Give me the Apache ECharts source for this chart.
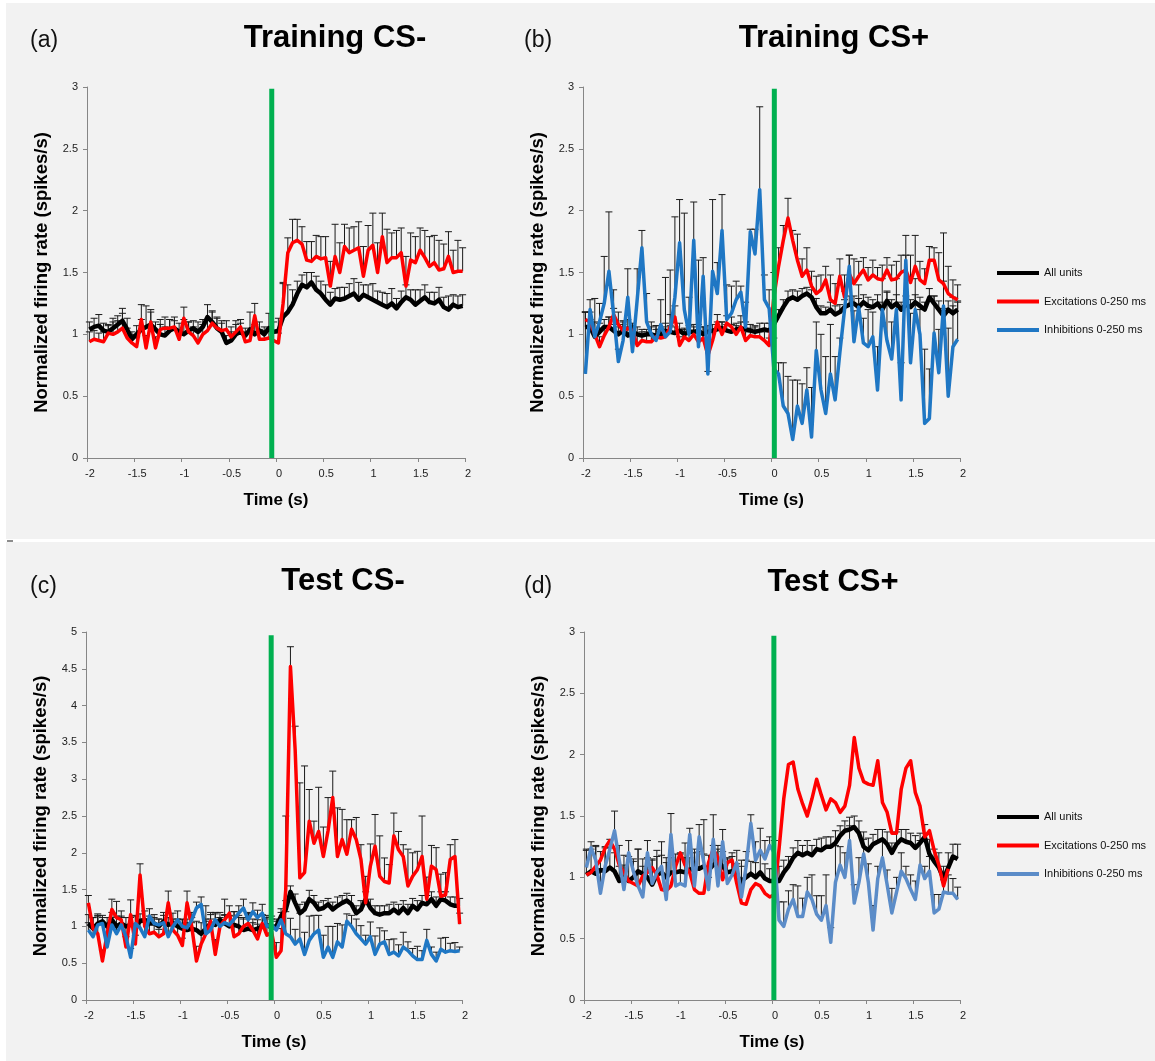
<!DOCTYPE html>
<html>
<head>
<meta charset="utf-8">
<script src="https://cdn.jsdelivr.net/npm/echarts/dist/echarts.min.js"></script>
<style>
  html, body { margin: 0; padding: 0; background: #ffffff; }
  #chart { width: 1155px; height: 1061px; }
</style>
</head>
<body>
<div id="chart"></div>
<script>
// Peri-stimulus firing rate, 50 ms bins from -2 s to +2 s (80 bins, values at bin centres)
const binWidth = 0.05;
const firstBinCentre = -1.975;
const binCount = 80;
const timeBins = Array.from({ length: binCount }, (_, i) => +(firstBinCentre + i * binWidth).toFixed(3));

const xTickStep = 0.5;
const legendNames = ['All units', 'Excitations 0-250 ms', 'Inhibitions 0-250 ms'];
const panelTitles = ['Training CS-', 'Training CS+', 'Test CS-', 'Test CS+'];
const panelLetters = ['(a)', '(b)', '(c)', '(d)'];
const yAxisTitle = 'Normalized firing rate (spikes/s)';
const xAxisTitle = 'Time (s)';

// ---- (a) Training CS- ----
const allUnitsA = [
  1.04, 1.06, 1.07, 1.03, 1.02, 1.05, 1.08, 1.11, 1.04, 0.96,
  1.00, 1.04, 1.06, 1.08, 1.04, 1.00, 0.99, 1.03, 1.05, 1.02,
  1.00, 1.03, 1.05, 1.02, 1.06, 1.14, 1.10, 1.05, 1.02, 0.93,
  0.95, 1.00, 1.02, 0.99, 1.04, 1.00, 1.03, 1.00, 1.05, 1.02,
  1.03, 1.14, 1.18, 1.24, 1.33, 1.40, 1.38, 1.42, 1.36, 1.33,
  1.28, 1.24, 1.29, 1.28, 1.29, 1.31, 1.33, 1.28, 1.32, 1.30,
  1.28, 1.26, 1.24, 1.22, 1.25, 1.21, 1.26, 1.30, 1.28, 1.24,
  1.27, 1.30, 1.26, 1.25, 1.28, 1.22, 1.20, 1.24, 1.22, 1.23
];
const allUnitsSemA = [
  0.06, 0.07, 0.09, 0.06, 0.05, 0.08, 0.07, 0.10, 0.09, 0.06,
  0.07, 0.08, 0.17, 0.10, 0.06, 0.08, 0.07, 0.09, 0.06, 0.07,
  0.12, 0.07, 0.06, 0.08, 0.06, 0.10, 0.08, 0.09, 0.07, 0.06,
  0.07, 0.08, 0.07, 0.06, 0.14, 0.08, 0.07, 0.06, 0.12, 0.08,
  0.10, 0.28, 0.22, 0.12, 0.10, 0.08, 0.12, 0.08, 0.11, 0.10,
  0.12, 0.10, 0.08, 0.10, 0.09, 0.10, 0.12, 0.14, 0.08, 0.10,
  0.13, 0.09, 0.10, 0.11, 0.12, 0.08, 0.09, 0.10, 0.08, 0.12,
  0.09, 0.10, 0.08, 0.09, 0.10, 0.08, 0.11, 0.08, 0.09, 0.09
];
const excitA = [
  0.94, 0.96, 0.95, 0.94, 1.01, 1.00, 1.02, 1.05, 0.97, 0.93,
  0.90, 1.12, 0.89, 1.10, 0.89, 1.04, 1.05, 1.05, 1.06, 0.96,
  1.13, 1.02, 0.99, 0.93, 1.00, 1.03, 1.09, 1.05, 1.03, 1.04,
  0.98, 1.02, 1.06, 0.94, 0.95, 1.15, 0.96, 0.96, 0.97, 0.95,
  0.93, 1.25, 1.66, 1.74, 1.76, 1.73, 1.60, 1.59, 1.63, 1.61,
  1.62, 1.39, 1.63, 1.50, 1.71, 1.66, 1.68, 1.70, 1.47, 1.68,
  1.72, 1.50, 1.79, 1.58, 1.62, 1.62, 1.66, 1.39, 1.60, 1.58,
  1.68, 1.62, 1.55, 1.58, 1.52, 1.53, 1.63, 1.50, 1.51, 1.51
];
const excitSemA = [
  0.08, 0.07, 0.06, 0.08, 0.07, 0.10, 0.09, 0.12, 0.08, 0.07,
  0.08, 0.12, 0.10, 0.10, 0.09, 0.08, 0.09, 0.07, 0.08, 0.07,
  0.09, 0.08, 0.07, 0.09, 0.08, 0.09, 0.10, 0.08, 0.08, 0.07,
  0.08, 0.09, 0.06, 0.08, 0.07, 0.10, 0.08, 0.07, 0.08, 0.07,
  0.08, 0.16, 0.12, 0.19, 0.17, 0.14, 0.15, 0.16, 0.17, 0.18,
  0.17, 0.20, 0.26, 0.24, 0.18, 0.20, 0.19, 0.21, 0.24, 0.20,
  0.26, 0.24, 0.19, 0.27, 0.20, 0.22, 0.20, 0.24, 0.22, 0.21,
  0.18, 0.22, 0.24, 0.22, 0.24, 0.20, 0.20, 0.18, 0.25, 0.19
];

// ---- (b) Training CS+ ----
const allUnitsB = [
  1.06, 1.06, 0.98, 1.02, 1.06, 1.06, 1.03, 1.00, 1.03, 0.99,
  1.02, 1.00, 0.99, 1.00, 1.00, 0.99, 0.99, 1.03, 1.02, 1.01,
  1.03, 1.00, 1.02, 1.02, 1.03, 1.00, 1.02, 1.03, 1.04, 1.05,
  1.03, 1.02, 1.04, 1.05, 1.04, 1.03, 1.02, 1.03, 1.04, 1.03,
  1.08, 1.15, 1.22, 1.28, 1.30, 1.28, 1.31, 1.33, 1.30, 1.22,
  1.17, 1.17, 1.20, 1.16, 1.18, 1.22, 1.24, 1.25, 1.22, 1.26,
  1.23, 1.22, 1.25, 1.20, 1.27, 1.22, 1.25, 1.20, 1.24, 1.22,
  1.26, 1.23, 1.20, 1.30, 1.25, 1.20, 1.15, 1.20, 1.17, 1.20
];
const allUnitsSemB = [
  0.12, 0.06, 0.05, 0.07, 0.06, 0.08, 0.05, 0.06, 0.05, 0.07,
  0.05, 0.06, 0.05, 0.04, 0.06, 0.05, 0.05, 0.06, 0.05, 0.05,
  0.06, 0.05, 0.05, 0.06, 0.05, 0.06, 0.05, 0.05, 0.06, 0.05,
  0.05, 0.06, 0.05, 0.05, 0.06, 0.05, 0.05, 0.06, 0.05, 0.06,
  0.06, 0.05, 0.06, 0.07, 0.06, 0.07, 0.06, 0.05, 0.06, 0.07,
  0.06, 0.05, 0.06, 0.07, 0.06, 0.06, 0.07, 0.06, 0.07, 0.06,
  0.07, 0.06, 0.07, 0.06, 0.07, 0.06, 0.07, 0.06, 0.07, 0.06,
  0.06, 0.07, 0.06, 0.07, 0.06, 0.07, 0.06, 0.07, 0.06, 0.07
];
const excitB = [
  1.12, 1.10, 1.00, 0.90, 0.99, 1.06, 1.16, 1.08, 1.03, 1.05,
  1.03, 0.91, 0.95, 0.94, 0.94, 0.98, 0.97, 0.98, 1.06, 1.14,
  0.91, 0.98, 0.95, 1.00, 0.94, 0.97, 0.83, 0.95, 1.10, 1.00,
  1.09, 1.06, 1.00, 1.06, 0.95, 0.99, 0.98, 0.98, 0.95, 0.91,
  1.30, 1.55, 1.76, 1.94, 1.76, 1.60, 1.47, 1.52, 1.39, 1.33,
  1.36, 1.44, 1.28, 1.25, 1.47, 1.30, 1.49, 1.41, 1.47, 1.52,
  1.44, 1.48, 1.45, 1.44, 1.52, 1.44, 1.45, 1.50, 1.52, 1.42,
  1.55, 1.44, 1.41, 1.60, 1.60, 1.44, 1.41, 1.33, 1.30, 1.28
];
const excitSemB = [
  0.06, 0.08, 0.10, 0.08, 0.06, 0.08, 0.05, 0.10, 0.08, 0.07,
  0.06, 0.10, 0.07, 0.08, 0.06, 0.09, 0.07, 0.08, 0.10, 0.09,
  0.07, 0.06, 0.08, 0.06, 0.07, 0.09, 0.07, 0.08, 0.06, 0.10,
  0.06, 0.08, 0.07, 0.09, 0.07, 0.06, 0.08, 0.06, 0.07, 0.06,
  0.20, 0.15, 0.12, 0.16, 0.08, 0.21, 0.14, 0.18, 0.12, 0.14,
  0.12, 0.11, 0.20, 0.16, 0.14, 0.18, 0.15, 0.20, 0.12, 0.10,
  0.10, 0.12, 0.09, 0.12, 0.10, 0.12, 0.14, 0.14, 0.12, 0.22,
  0.25, 0.15, 0.12, 0.11, 0.10, 0.22, 0.41, 0.22, 0.14, 0.12
];
const inhibB = [
  0.68, 1.20, 0.98, 1.10, 1.25, 1.51, 1.16, 0.78, 0.95, 1.30,
  0.86, 1.28, 1.70, 1.10, 1.00, 0.95, 1.08, 0.98, 1.02, 1.30,
  1.74, 1.20, 1.00, 1.76, 0.90, 1.47, 0.68, 1.51, 1.33, 1.84,
  1.12, 1.17, 1.28, 1.34, 1.06, 1.83, 1.65, 2.17, 1.28, 1.21,
  0.72, 0.68, 0.42, 0.36, 0.15, 0.42, 0.28, 0.55, 0.17, 0.87,
  0.55, 0.36, 0.68, 0.47, 0.85, 1.20, 1.55, 0.94, 1.22, 0.93,
  0.90, 0.98, 0.55, 1.20, 0.95, 0.80, 1.20, 0.47, 1.60, 0.77,
  1.20, 1.00, 0.28, 0.32, 1.01, 0.69, 1.23, 0.50, 0.90, 0.96
];
const inhibSemB = [
  0.50, 0.08, 0.31, 0.15, 0.38, 0.48, 0.20, 0.10, 0.15, 0.23,
  0.12, 0.25, 0.14, 0.23, 0.10, 0.12, 0.20, 0.48, 0.50, 0.65,
  0.35, 0.78, 0.30, 0.31, 0.70, 0.15, 0.02, 0.58, 0.25, 0.29,
  0.28, 0.22, 0.15, 0.05, 0.20, 0.02, 0.20, 0.67, 0.20, 0.15,
  0.25, 0.09, 0.35, 0.30, 0.48, 0.21, 0.32, 0.18, 0.40, 0.23,
  0.45, 0.46, 0.40, 0.35, 0.12, 0.15, 0.09, 0.25, 0.18, 0.20,
  0.30, 0.20, 0.35, 0.25, 0.40, 0.30, 0.25, 0.30, 0.20, 0.40,
  0.25, 0.20, 0.60, 0.40, 0.30, 0.35, 0.20, 0.55, 0.40, 0.30
];

// ---- (c) Test CS- ----
const allUnitsC = [
  1.04, 0.97, 1.04, 1.07, 1.00, 1.09, 1.00, 1.04, 1.00, 1.02,
  1.00, 1.07, 1.09, 1.04, 1.04, 1.00, 1.07, 1.02, 1.04, 1.00,
  0.97, 0.95, 0.97, 0.95, 0.90, 0.97, 1.04, 1.02, 1.09, 1.04,
  1.00, 1.02, 1.00, 0.95, 0.97, 0.95, 0.97, 1.00, 1.02, 0.98,
  1.00, 1.14, 1.23, 1.47, 1.32, 1.18, 1.23, 1.37, 1.32, 1.23,
  1.25, 1.30, 1.23, 1.28, 1.32, 1.35, 1.30, 1.18, 1.23, 1.37,
  1.25, 1.18, 1.16, 1.18, 1.18, 1.23, 1.18, 1.25, 1.18, 1.28,
  1.23, 1.32, 1.30, 1.37, 1.28, 1.37, 1.35, 1.30, 1.28, 1.28
];
const allUnitsSemC = [
  0.12, 0.15, 0.10, 0.08, 0.12, 0.10, 0.14, 0.10, 0.12, 0.10,
  0.15, 0.10, 0.12, 0.10, 0.08, 0.10, 0.12, 0.10, 0.14, 0.10,
  0.12, 0.10, 0.08, 0.12, 0.15, 0.10, 0.12, 0.15, 0.10, 0.12,
  0.15, 0.18, 0.12, 0.15, 0.20, 0.15, 0.12, 0.15, 0.10, 0.12,
  0.10, 0.10, 0.12, 0.08, 0.12, 0.12, 0.10, 0.12, 0.10, 0.10,
  0.10, 0.08, 0.10, 0.12, 0.10, 0.10, 0.12, 0.10, 0.12, 0.10,
  0.12, 0.10, 0.12, 0.10, 0.12, 0.10, 0.12, 0.10, 0.12, 0.10,
  0.12, 0.10, 0.12, 0.10, 0.12, 0.10, 0.12, 0.10, 0.12, 0.10
];
const excitC = [
  1.32, 0.97, 0.90, 0.53, 0.90, 1.23, 1.12, 1.09, 0.72, 1.16,
  0.76, 1.70, 1.00, 0.90, 0.92, 0.86, 0.90, 1.32, 0.95, 0.88,
  0.74, 1.32, 1.00, 0.53, 0.76, 0.90, 1.07, 0.62, 1.00, 1.09,
  1.18, 0.86, 0.90, 1.00, 1.04, 0.95, 0.83, 1.04, 0.88, 0.92,
  0.58, 0.67, 1.50, 4.53, 3.40, 1.66, 1.73, 2.43, 2.13, 2.29,
  1.95, 2.30, 2.75, 1.95, 2.18, 1.98, 2.32, 2.18, 1.91, 1.32,
  1.82, 2.09, 1.68, 1.61, 1.59, 2.23, 2.04, 1.95, 1.55, 1.68,
  1.77, 1.95, 1.37, 1.82, 1.77, 1.41, 1.43, 1.91, 1.95, 1.03
];
const excitSemC = [
  0.10, 0.15, 0.25, 0.15, 0.12, 0.14, 0.22, 0.12, 0.14, 0.20,
  0.12, 0.15, 0.10, 0.14, 0.12, 0.10, 0.14, 0.16, 0.12, 0.12,
  0.10, 0.16, 0.12, 0.20, 0.14, 0.38, 0.12, 0.20, 0.12, 0.28,
  0.10, 0.14, 0.25, 0.12, 0.14, 0.10, 0.20, 0.12, 0.14, 0.10,
  0.20, 0.30, 1.00, 0.27, 0.32, 1.29, 1.45, 0.43, 0.30, 0.60,
  0.40, 0.45, 0.36, 0.66, 0.41, 0.47, 0.13, 0.30, 0.20, 0.36,
  0.30, 0.43, 0.55, 0.32, 0.25, 0.31, 0.25, 0.16, 0.50, 0.32,
  0.25, 0.55, 0.30, 0.28, 0.30, 0.30, 0.30, 0.20, 0.23, 0.15
];
const inhibC = [
  0.95, 0.86, 1.02, 1.04, 0.72, 1.02, 0.90, 1.02, 0.86, 0.58,
  1.04, 0.98, 0.86, 1.14, 1.04, 1.02, 1.05, 0.86, 1.00, 1.09,
  1.00, 0.98, 1.09, 1.25, 1.30, 0.90, 0.95, 1.09, 1.00, 1.05,
  1.02, 1.10, 1.18, 1.25, 1.09, 1.20, 1.12, 1.18, 1.00, 1.02,
  0.95, 1.09, 0.90, 0.86, 0.76, 0.83, 0.62, 0.81, 0.90, 0.95,
  0.58, 0.72, 0.58, 0.79, 0.72, 1.07, 1.00, 0.90, 0.83, 0.76,
  0.86, 0.62, 0.76, 0.79, 0.62, 0.65, 0.60, 0.72, 0.67, 0.60,
  0.55, 0.55, 0.81, 0.62, 0.53, 0.69, 0.65, 0.67, 0.66, 0.67
];
const inhibSemC = [
  0.10, 0.12, 0.15, 0.08, 0.20, 0.10, 0.12, 0.10, 0.15, 0.12,
  0.10, 0.12, 0.20, 0.10, 0.12, 0.08, 0.10, 0.15, 0.10, 0.12,
  0.10, 0.12, 0.10, 0.08, 0.10, 0.20, 0.15, 0.10, 0.12, 0.10,
  0.12, 0.10, 0.10, 0.12, 0.10, 0.12, 0.10, 0.12, 0.15, 0.12,
  0.12, 0.10, 0.30, 0.25, 0.20, 0.35, 0.30, 0.33, 0.25, 0.20,
  0.30, 0.28, 0.42, 0.25, 0.30, 0.10, 0.15, 0.20, 0.18, 0.12,
  0.20, 0.25, 0.22, 0.15, 0.20, 0.18, 0.15, 0.20, 0.12, 0.10,
  0.18, 0.12, 0.15, 0.10, 0.12, 0.15, 0.20, 0.10, 0.12, 0.05
];

// ---- (d) Test CS+ ----
const allUnitsD = [
  1.02, 1.05, 1.03, 1.06, 1.05, 1.08, 1.05, 0.97, 1.00, 0.97,
  1.00, 1.05, 1.03, 1.00, 0.94, 1.02, 1.04, 1.00, 1.04, 1.04,
  1.05, 1.04, 1.06, 1.08, 1.07, 1.09, 1.06, 1.10, 1.12, 1.09,
  1.04, 1.05, 1.01, 0.97, 1.00, 1.03, 1.00, 1.04, 0.99, 0.97,
  0.97, 0.97, 1.04, 1.09, 1.16, 1.20, 1.18, 1.20, 1.18, 1.23,
  1.22, 1.25, 1.25, 1.28, 1.34, 1.38, 1.39, 1.41, 1.36, 1.25,
  1.22, 1.27, 1.29, 1.31, 1.27, 1.20, 1.27, 1.31, 1.29, 1.28,
  1.24, 1.28, 1.33, 1.19, 1.13, 1.08, 0.99, 1.08, 1.17, 1.15
];
const allUnitsSemD = [
  0.20, 0.18, 0.22, 0.15, 0.20, 0.16, 0.15, 0.12, 0.18, 0.20,
  0.15, 0.18, 0.12, 0.16, 0.20, 0.15, 0.14, 0.16, 0.12, 0.15,
  0.14, 0.12, 0.10, 0.12, 0.14, 0.10, 0.12, 0.16, 0.14, 0.12,
  0.12, 0.15, 0.10, 0.12, 0.14, 0.10, 0.12, 0.15, 0.12, 0.10,
  0.10, 0.12, 0.10, 0.08, 0.08, 0.10, 0.08, 0.10, 0.08, 0.08,
  0.10, 0.08, 0.08, 0.10, 0.08, 0.08, 0.10, 0.09, 0.10, 0.12,
  0.10, 0.08, 0.10, 0.08, 0.10, 0.08, 0.10, 0.08, 0.10, 0.08,
  0.10, 0.08, 0.10, 0.12, 0.10, 0.12, 0.10, 0.12, 0.10, 0.12
];
const excitD = [
  1.02, 1.04, 1.09, 1.14, 1.24, 1.30, 1.23, 1.10, 1.04, 0.97,
  0.95, 0.93, 1.01, 1.04, 1.08, 1.02, 0.90, 0.89, 0.93, 1.09,
  1.20, 1.10, 1.04, 0.90, 0.87, 0.87, 1.12, 1.23, 1.16, 0.98,
  1.12, 1.14, 0.95, 0.79, 0.78, 0.90, 0.95, 0.93, 0.87, 0.84,
  0.86, 1.23, 1.64, 1.92, 1.94, 1.72, 1.60, 1.50, 1.64, 1.80,
  1.67, 1.55, 1.64, 1.61, 1.53, 1.58, 1.75, 2.14, 1.89, 1.78,
  1.76, 1.75, 1.95, 1.61, 1.53, 1.36, 1.36, 1.72, 1.89, 1.95,
  1.69, 1.58, 1.33, 1.38, 1.22, 1.10, 0.93, 1.07, null, null
];
const inhibD = [
  1.08, 1.24, 1.14, 0.87, 1.09, 1.23, 1.38, 1.14, 0.90, 1.20,
  1.05, 0.93, 0.84, 1.20, 0.95, 1.04, 1.09, 0.82, 1.35, 0.93,
  0.95, 0.93, 1.35, 0.93, 1.33, 1.12, 0.90, 1.31, 0.93, 1.29,
  0.95, 1.02, 1.12, 0.84, 1.09, 1.44, 1.14, 1.22, 1.15, 1.26,
  1.20, 0.65, 0.60, 0.74, 0.82, 0.68, 0.68, 0.88, 0.82, 0.70,
  0.65, 0.77, 0.47, 0.96, 1.10, 1.00, 1.30, 0.79, 0.96, 1.19,
  0.96, 0.57, 0.99, 1.16, 0.94, 0.71, 0.88, 1.05, 0.99, 0.90,
  0.82, 1.10, 0.99, 1.05, 0.71, 0.74, 0.88, 0.87, 0.87, 0.82
];
const inhibSemD = [
  0.15, 0.05, 0.12, 0.20, 0.15, 0.08, 0.16, 0.12, 0.20, 0.10,
  0.08, 0.30, 0.25, 0.10, 0.20, 0.18, 0.20, 0.30, 0.17, 0.20,
  0.25, 0.35, 0.05, 0.30, 0.10, 0.35, 0.10, 0.20, 0.30, 0.10,
  0.20, 0.15, 0.10, 0.30, 0.12, 0.07, 0.15, 0.18, 0.15, 0.07,
  0.10, 0.15, 0.20, 0.15, 0.12, 0.25, 0.15, 0.12, 0.20, 0.15,
  0.20, 0.25, 0.12, 0.30, 0.15, 0.20, 0.12, 0.15, 0.20, 0.12,
  0.15, 0.20, 0.10, 0.15, 0.12, 0.20, 0.12, 0.15, 0.10, 0.12,
  0.15, 0.20, 0.10, 0.12, 0.15, 0.12, 0.10, 0.15, 0.12, 0.10
];

// Stimulus onset marker position (s) in each panel
const stimulusTimes = [-0.045, 0.03, -0.03, 0.02];

// ---------------- styling / layout ----------------
const FONT = '"Liberation Sans", Arial, sans-serif';
const BLACK = '#000000';
const RED = '#ff0000';
const BLUE = '#1f77c4';
const BLUE_SOFT = '#5b8cc8';
const GREEN = '#00b050';
const AXIS_GREY = '#868686';

const panels = [
  { grid: { left: 87, top: 87, width: 378, height: 371 }, yMax: 3, stimTop: 2.985,
    letterPos: [30, 41], titlePos: [335, 38],
    lines: [
      { name: legendNames[0], values: allUnitsA, sem: allUnitsSemA, color: BLACK, width: 4.5 },
      { name: legendNames[1], values: excitA, sem: excitSemA, color: RED, width: 3.5 }
    ] },
  { grid: { left: 583, top: 87, width: 377, height: 371 }, yMax: 3, stimTop: 2.985,
    letterPos: [524, 41], titlePos: [834, 38],
    lines: [
      { name: legendNames[0], values: allUnitsB, sem: allUnitsSemB, color: BLACK, width: 4.5 },
      { name: legendNames[1], values: excitB, sem: excitSemB, color: RED, width: 3.5 },
      { name: legendNames[2], values: inhibB, sem: inhibSemB, color: BLUE, width: 3.5 }
    ] },
  { grid: { left: 86, top: 632, width: 376, height: 368 }, yMax: 5, stimTop: 4.955,
    letterPos: [30, 587], titlePos: [343, 581],
    lines: [
      { name: legendNames[0], values: allUnitsC, sem: allUnitsSemC, color: BLACK, width: 4.5 },
      { name: legendNames[1], values: excitC, sem: excitSemC, color: RED, width: 3.5 },
      { name: legendNames[2], values: inhibC, sem: inhibSemC, color: BLUE, width: 3.5 }
    ] },
  { grid: { left: 584, top: 632, width: 376, height: 368 }, yMax: 3, stimTop: 2.97,
    letterPos: [524, 587], titlePos: [833, 582],
    lines: [
      { name: legendNames[0], values: allUnitsD, sem: allUnitsSemD, color: BLACK, width: 4.5 },
      { name: legendNames[1], values: excitD, sem: null, color: RED, width: 3.5 },
      { name: legendNames[2], values: inhibD, sem: inhibSemD, color: BLUE_SOFT, width: 3.5 }
    ] }
];

function renderSem(params, api) {
  const t = api.value(0), v = api.value(1), e = api.value(2);
  const base = api.coord([t, v]);
  const tip = api.coord([t, v + e]);
  const half = 3.5;
  const style = { stroke: '#1a1a1a', lineWidth: 1 };
  return {
    type: 'group',
    children: [
      { type: 'line', shape: { x1: base[0], y1: base[1], x2: tip[0], y2: tip[1] }, style },
      { type: 'line', shape: { x1: tip[0] - half, y1: tip[1], x2: tip[0] + half, y2: tip[1] }, style }
    ]
  };
}

function renderStimulus(params, api) {
  const t = api.value(0);
  const low = api.coord([t, 0]);
  const high = api.coord([t, api.value(1)]);
  return {
    type: 'rect',
    shape: { x: low[0] - 2.5, y: high[1], width: 5, height: low[1] - high[1] },
    style: { fill: GREEN }
  };
}

const grids = [], xAxes = [], yAxes = [], series = [], graphics = [];

panels.forEach((p, k) => {
  grids.push(Object.assign({ containLabel: false }, p.grid));
  xAxes.push({
    gridIndex: k, type: 'value', min: -2, max: 2, interval: xTickStep,
    name: xAxisTitle, nameLocation: 'middle', nameGap: 34,
    nameTextStyle: { fontFamily: FONT, fontSize: 17, fontWeight: 'bold', color: '#000' },
    axisLine: { onZero: false, lineStyle: { color: AXIS_GREY, width: 1 } },
    axisTick: { length: 4, lineStyle: { color: AXIS_GREY } },
    axisLabel: { fontFamily: FONT, fontSize: 11, color: '#222', margin: 10, padding: [0, 0, 0, 6] },
    splitLine: { show: false }
  });
  yAxes.push({
    gridIndex: k, type: 'value', min: 0, max: p.yMax, interval: 0.5,
    name: yAxisTitle, nameLocation: 'middle', nameGap: 36, nameRotate: 90,
    nameTextStyle: { fontFamily: FONT, fontSize: 18.5, fontWeight: 'bold', color: '#000' },
    axisLine: { show: true, onZero: false, lineStyle: { color: AXIS_GREY, width: 1 } },
    axisTick: { show: true, length: 4, lineStyle: { color: AXIS_GREY } },
    axisLabel: { fontFamily: FONT, fontSize: 11, color: '#222', margin: 9 },
    splitLine: { show: false }
  });

  // error bars (upper SEM) under the traces
  p.lines.forEach((ln) => {
    if (!ln.sem) return;
    series.push({
      type: 'custom', xAxisIndex: k, yAxisIndex: k, z: 1, silent: true,
      renderItem: renderSem,
      encode: { x: 0, y: 1 },
      data: timeBins.map((t, i) => [t, ln.values[i], ln.sem[i]])
    });
  });
  p.lines.forEach((ln, j) => {
    series.push({
      type: 'line', name: ln.name, xAxisIndex: k, yAxisIndex: k, z: 3 + j,
      showSymbol: false, symbol: 'none', silent: true,
      lineStyle: { color: ln.color, width: ln.width, join: 'round' },
      itemStyle: { color: ln.color },
      data: timeBins.map((t, i) => [t, ln.values[i]])
    });
  });
  series.push({
    type: 'custom', xAxisIndex: k, yAxisIndex: k, z: 10, silent: true,
    renderItem: renderStimulus,
    encode: { x: 0, y: 1 },
    data: [[stimulusTimes[k], p.stimTop]]
  });

  graphics.push({
    type: 'text', x: p.letterPos[0], y: p.letterPos[1], silent: true,
    style: { text: panelLetters[k], fontFamily: FONT, fontSize: 23, fill: '#111',
             textAlign: 'left', textVerticalAlign: 'middle', align: 'left', verticalAlign: 'middle' }
  });
  graphics.push({
    type: 'text', x: p.titlePos[0], y: p.titlePos[1], silent: true,
    style: { text: panelTitles[k], fontFamily: FONT, fontSize: 31, fontWeight: 'bold', fill: '#000',
             textAlign: 'center', textVerticalAlign: 'middle', align: 'center', verticalAlign: 'middle' }
  });
});

// white page margins and the gap between the two rows
graphics.unshift(
  { type: 'rect', shape: { x: 0, y: 0, width: 1155, height: 3 }, style: { fill: '#ffffff' }, silent: true },
  { type: 'rect', shape: { x: 0, y: 0, width: 6, height: 1061 }, style: { fill: '#ffffff' }, silent: true },
  { type: 'rect', shape: { x: 0, y: 539, width: 1155, height: 3 }, style: { fill: '#ffffff' }, silent: true },
  { type: 'rect', shape: { x: 7, y: 540, width: 6, height: 2 }, style: { fill: '#8c8c8c' }, silent: true }
);

function legendFor(top, inhibColor) {
  return {
    orient: 'vertical', left: 997, top: top, padding: 0, icon: 'rect',
    itemWidth: 42, itemHeight: 4, itemGap: 14.5, selectedMode: false,
    textStyle: { fontFamily: FONT, fontSize: 11, color: '#111', lineHeight: 14 },
    data: [
      { name: legendNames[0], itemStyle: { color: BLACK } },
      { name: legendNames[1], itemStyle: { color: RED } },
      { name: legendNames[2], itemStyle: { color: inhibColor } }
    ]
  };
}

const chart = echarts.init(document.getElementById('chart'), null, { renderer: 'canvas' });
chart.setOption({
  backgroundColor: '#f2f2f2',
  animation: false,
  grid: grids,
  xAxis: xAxes,
  yAxis: yAxes,
  legend: [legendFor(266, BLUE), legendFor(810, BLUE_SOFT)],
  graphic: graphics,
  series: series
});
</script>
</body>
</html>
